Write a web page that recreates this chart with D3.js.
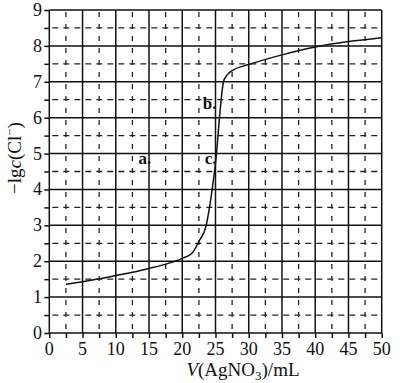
<!DOCTYPE html>
<html>
<head>
<meta charset="utf-8">
<script src="https://cdn.jsdelivr.net/npm/d3@7"></script>
<style>
  body { margin: 0; background: #fff; }
  #chart text { font-family: 'Liberation Serif', serif !important; }
</style>
</head>
<body>
<svg id="chart" width="400" height="383"></svg>
<script>
// titration curve
const volume = [2.5, 5, 7.5, 10, 12.5, 15, 17.5, 20, 21.5, 22.5, 23.6, 24.1, 24.5, 25.15, 25.6, 26.2, 26.7, 27.7, 30, 35, 40, 45, 50];
const pCl = [1.36, 1.43, 1.51, 1.6, 1.69, 1.8, 1.92, 2.08, 2.23, 2.55, 3.0, 3.5, 4.0, 5.0, 6.0, 7.0, 7.18, 7.33, 7.48, 7.75, 7.97, 8.12, 8.23];

const xTicks = [0, 5, 10, 15, 20, 25, 30, 35, 40, 45, 50];
const yTicks = [0, 1, 2, 3, 4, 5, 6, 7, 8, 9];
const xHalf = [2.5, 7.5, 12.5, 17.5, 22.5, 27.5, 32.5, 37.5, 42.5, 47.5];
const yHalf = [0.5, 1.5, 2.5, 3.5, 4.5, 5.5, 6.5, 7.5, 8.5];

// point labels
const marks = [
  { name: 'a', v: 15.2, p: 4.73 },
  { name: 'b', v: 25, p: 6.27 },
  { name: 'c', v: 25, p: 4.73 }
];

const serif = 'Liberation Serif';

const svg = d3.select('#chart');
const x = d3.scaleLinear().domain([0, 50]).range([49.3, 381.7]);
const y = d3.scaleLinear().domain([0, 9]).range([333, 10]);

const g = svg.append('g');

// dashed half grid
g.selectAll('line.hx')
  .data(xHalf)
  .enter().append('line')
  .attr('x1', d => x(d)).attr('x2', d => x(d))
  .attr('y1', y(0)).attr('y2', y(9))
  .attr('stroke', '#222').attr('stroke-width', 1.3)
  .attr('stroke-dasharray', '5,7').attr('stroke-dashoffset', -4);

g.selectAll('line.hy')
  .data(yHalf)
  .enter().append('line')
  .attr('y1', d => y(d)).attr('y2', d => y(d))
  .attr('x1', x(0)).attr('x2', x(50))
  .attr('stroke', '#222').attr('stroke-width', 1.3)
  .attr('stroke-dasharray', '6,5').attr('stroke-dashoffset', -3);

// solid grid
g.selectAll('line.gx')
  .data(xTicks)
  .enter().append('line')
  .attr('x1', d => x(d)).attr('x2', d => x(d))
  .attr('y1', y(0)).attr('y2', y(9))
  .attr('stroke', '#111').attr('stroke-width', 1.5);

g.selectAll('line.gy')
  .data(yTicks)
  .enter().append('line')
  .attr('y1', d => y(d)).attr('y2', d => y(d))
  .attr('x1', x(0)).attr('x2', x(50))
  .attr('stroke', '#111').attr('stroke-width', 1.5);

// axes with ticks every half step
const xAxis = d3.axisBottom(x).tickValues(d3.range(0, 50.1, 2.5)).tickSize(5).tickFormat('');
svg.append('g').attr('transform', `translate(0,${y(0)})`).call(xAxis)
  .call(a => a.select('.domain').remove())
  .call(a => a.selectAll('text').remove())
  .call(a => a.selectAll('line').attr('stroke', '#111').attr('stroke-width', 1.5));

const yAxis = d3.axisLeft(y).tickValues(d3.range(0, 9.01, 0.5)).tickSize(5).tickFormat('');
svg.append('g').attr('transform', `translate(${x(0)},0)`).call(yAxis)
  .call(a => a.select('.domain').remove())
  .call(a => a.selectAll('text').remove())
  .call(a => a.selectAll('line').attr('stroke', '#111').attr('stroke-width', 1.5));

svg.append('g').selectAll('text')
  .data(xTicks)
  .enter().append('text')
  .attr('x', d => x(d)).attr('y', 355)
  .attr('text-anchor', 'middle')
  .style('font-family', serif)
  .style('font-size', '18px')
  .attr('fill', '#111')
  .text(d => d);

svg.append('g').selectAll('text')
  .data(yTicks)
  .enter().append('text')
  .attr('x', 42).attr('y', d => y(d) + 6)
  .attr('text-anchor', 'end')
  .style('font-family', serif)
  .style('font-size', '18px')
  .attr('fill', '#111')
  .text(d => d);

// curve
const line = d3.line()
  .x((d, i) => x(volume[i]))
  .y(d => y(d))
  .curve(d3.curveMonotoneX);

svg.append('path')
  .datum(pCl)
  .attr('d', line)
  .attr('fill', 'none')
  .attr('stroke', '#111')
  .attr('stroke-width', 1.5);

// labels a, b, c
svg.append('g').selectAll('text')
  .data(marks)
  .enter().append('text')
  .attr('x', d => x(d.v) + 1).attr('y', d => y(d.p) + 1)
  .attr('text-anchor', 'end')
  .style('font-family', serif)
  .style('font-size', '17px')
  .style('font-weight', 'bold')
  .attr('fill', '#111')
  .text(d => d.name + '.');

// axis titles
const xt = svg.append('text')
  .attr('x', 243).attr('y', 376)
  .attr('text-anchor', 'middle')
  .style('font-family', serif)
  .style('font-size', '19px')
  .attr('fill', '#111');
xt.append('tspan').style('font-style', 'italic').text('V');
xt.append('tspan').text('(AgNO');
xt.append('tspan').attr('dy', 4).style('font-size', '13px').text('3');
xt.append('tspan').attr('dy', -4).text(')/mL');

const yt = svg.append('text')
  .attr('transform', 'translate(21,158) rotate(-90)')
  .attr('text-anchor', 'middle')
  .style('font-family', serif)
  .style('font-size', '19px')
  .attr('fill', '#111');
yt.append('tspan').text('\u2212lg');
yt.append('tspan').style('font-style', 'italic').text('c');
yt.append('tspan').text('(Cl');
yt.append('tspan').attr('dy', -7).style('font-size', '13px').text('\u2212');
yt.append('tspan').attr('dy', 7).text(')');
</script>
</body>
</html>
